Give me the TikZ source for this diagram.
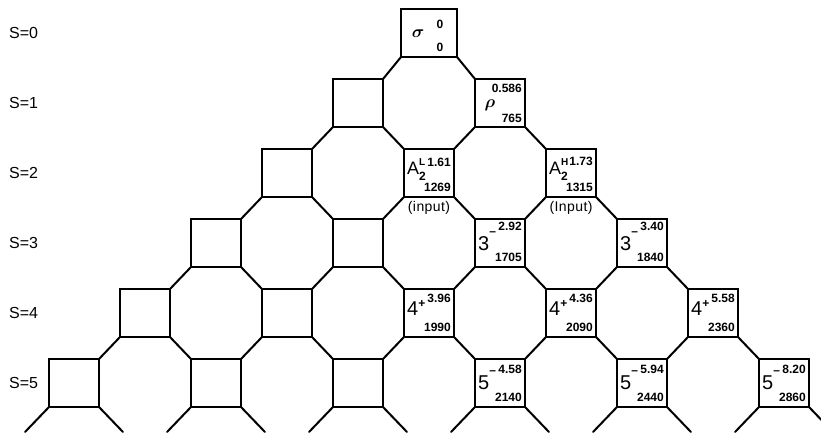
\documentclass[tikz,border=0pt]{standalone}
\usepackage{amsmath}
\usepackage{fontspec}
\setmainfont{Liberation Sans}
\newfontfamily\inpfont[LetterSpace=3]{Liberation Sans}
\newcommand\smf{\fontsize{12}{12}\selectfont\bfseries}
\newcommand\supm{\rlap{\raisebox{14.5pt}{\smf –}}}
\newcommand\supp{\rlap{\raisebox{8pt}{\smf +}}}
\newcommand\Atwo[1]{{\fontsize{18}{18}\selectfont A}\rlap{\raisebox{9pt}{\fontsize{10}{10}\selectfont\bfseries #1}}\raisebox{-6pt}{\smf 2}}
\newcommand\boxlbl[6]{%
  \node[num, anchor=north east] (#1-t) at ([shift={(-3,#5)}]#1.north east) {#3};
  \node[num, anchor=south east] (#1-b) at ([shift={(-3,-5)}]#1.south east) {#4};
  \node[sym] (#1-m) at ([shift={(3,#6)}]#1.west) {#2};}
\begin{document}
\begin{tikzpicture}[x=1pt,y=-1pt,
  sq/.style={draw, line width=2.1pt, minimum width=50pt, minimum height=48pt, inner sep=0pt, outer sep=0pt},
  link/.style={line width=2pt, line cap=round},
  num/.style={inner sep=0pt, font=\smf},
  sym/.style={inner sep=0pt, anchor=base west, font=\fontsize{20}{20}\selectfont},
  rowlab/.style={anchor=west, inner sep=0pt, font=\fontsize{16}{16}\selectfont},
  inp/.style={anchor=north, inner sep=0pt, font=\fontsize{14}{14}\inpfont}]
\useasboundingbox (0,0) rectangle (821,432);

% squares
\node[sq, minimum width=56pt] (s-0-0) at (429,33) {};
\foreach \s in {1,...,5}{
  \foreach \k in {0,...,\s}{
    \node[sq] (s-\s-\k) at ({429+(2*\k-\s)*71},{33+70*\s}) {};
  }
}

% diagonal links
\foreach \s [evaluate=\s as \t using int(\s+1)] in {0,...,4}{
  \foreach \k [evaluate=\k as \j using int(\k+1)] in {0,...,\s}{
    \draw[link] (s-\s-\k.south west) -- (s-\t-\k.north east);
    \draw[link] (s-\s-\k.south east) -- (s-\t-\j.north west);
  }
}

% stubs below the last row
\foreach \k in {0,...,5}{
  \path (s-5-\k.south west) ++(-24,25) coordinate (bl-\k);
  \path (s-5-\k.south east) ++(24,25) coordinate (br-\k);
  \draw[link] (s-5-\k.south west) -- (bl-\k);
  \draw[link] (s-5-\k.south east) -- (br-\k);
}

% row labels
\foreach \s in {0,...,5}{
  \node[rowlab] (lab-\s) at (9,{33+70*\s}) {S=\s};
}

% sigma box
\node[inner sep=0pt, font=\fontsize{17}{17}\selectfont] (sig) at (418,34) {$\boldsymbol{\sigma}$};
\node[num] (sig-t) at (440,24) {0};
\node[num] (sig-b) at (440,47) {0};

% rho box
\node[num, anchor=north east] (s-1-1-t) at ([shift={(-3,5)}]s-1-1.north east) {0.586};
\node[num, anchor=south east] (s-1-1-b) at ([shift={(-3,-4)}]s-1-1.south east) {765};
\node[inner sep=0pt, font=\fontsize{17}{17}\selectfont] (s-1-1-m) at (490,105) {$\boldsymbol{\rho}$};

% labelled boxes
\boxlbl{s-2-1}{\Atwo{L}}{1.61}{1269}{9}{1}
\boxlbl{s-2-2}{\Atwo{H}}{1.73}{1315}{8}{1}
\boxlbl{s-3-2}{3\supm}{2.92}{1705}{3}{7}
\boxlbl{s-3-3}{3\supm}{3.40}{1840}{3}{7}
\boxlbl{s-4-2}{4\supp}{3.96}{1990}{5}{2}
\boxlbl{s-4-3}{4\supp}{4.36}{2090}{5}{2}
\boxlbl{s-4-4}{4\supp}{5.58}{2360}{5}{2}
\boxlbl{s-5-3}{5\supm}{4.58}{2140}{6}{6}
\boxlbl{s-5-4}{5\supm}{5.94}{2440}{6}{6}
\boxlbl{s-5-5}{5\supm}{8.20}{2860}{6}{6}

\node[inp] (in-l) at ([shift={(0,4)}]s-2-1.south) {(input)};
\node[inp] (in-h) at ([shift={(0,4)}]s-2-2.south) {(Input)};
\end{tikzpicture}
\end{document}
